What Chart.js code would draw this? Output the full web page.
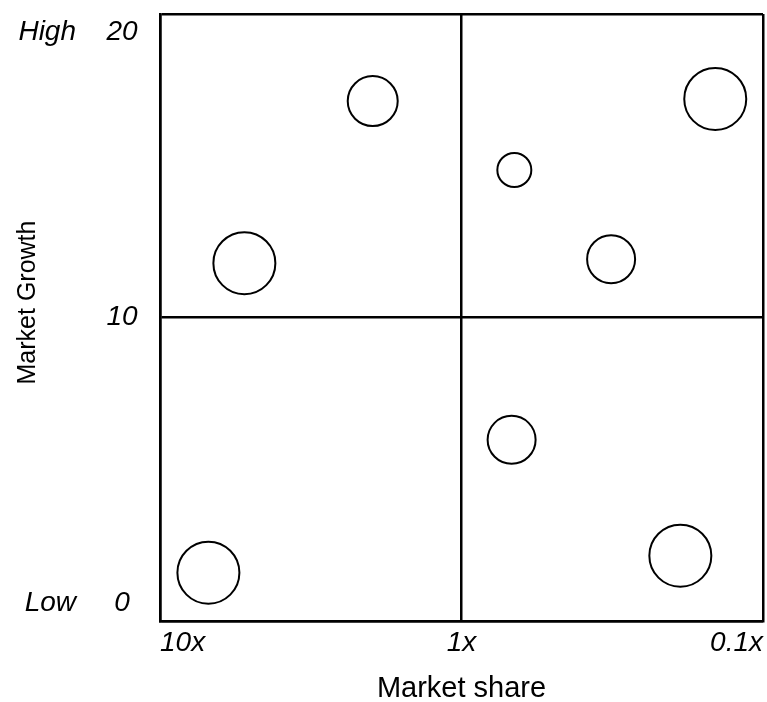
<!DOCTYPE html>
<html>
<head>
<meta charset="utf-8">
<script src="https://cdn.jsdelivr.net/npm/chart.js@4"></script>
<style>
  html, body { margin: 0; padding: 0; background: #fff; }
  #wrap { width: 767px; height: 702px; position: relative; }
</style>
</head>
<body>
<div id="wrap"><canvas id="c"></canvas></div>
<script>
// ---- data ----
const marketShare = [1.97, 5.25, 0.668, 0.144, 0.319, 0.682, 0.188, 6.91];
const marketGrowth = [17.13, 11.79, 14.86, 17.2, 11.92, 5.97, 2.15, 1.59];
const bubbleSizes = [25, 31, 17, 31, 24, 24, 31, 31];
const xTickValues = [0.1, 1, 10];
const xTickLabels = ['0.1x', '1x', '10x'];
const yTickValues = [0, 10, 20];
const yTickLabels = ['0', '10', '20'];
const yEndLabels = ['Low', 'High'];
const xTitle = 'Market share';
const yTitle = 'Market Growth';

const FONT = '"Liberation Sans", Arial, Helvetica, sans-serif';

const points = marketShare.map((x, i) => ({ x: x, y: marketGrowth[i], r: bubbleSizes[i] }));

const yLabelsPlugin = {
  id: 'yLabels',
  afterDraw(chart) {
    const ctx = chart.ctx;
    const ys = chart.scales.y;
    const area = chart.chartArea;
    const pad = 18;
    ctx.save();
    ctx.fillStyle = '#000';
    ctx.textBaseline = 'middle';
    ctx.font = 'italic 28px ' + FONT;
    yTickValues.forEach((v, i) => {
      let p = ys.getPixelForValue(v);
      p = Math.min(Math.max(p, area.top + pad), area.bottom - pad);
      ctx.textAlign = 'center';
      ctx.fillText(yTickLabels[i], 122, p);
    });
    // Low / High
    [ys.min, ys.max].forEach((v, i) => {
      let p = ys.getPixelForValue(v);
      p = Math.min(Math.max(p, area.top + pad), area.bottom - pad);
      ctx.textAlign = 'right';
      ctx.fillText(yEndLabels[i], 76, p);
    });
    // axis title
    ctx.font = '25px ' + FONT;
    ctx.textAlign = 'center';
    ctx.translate(28, (area.top + area.bottom) / 2 - 15);
    ctx.rotate(-Math.PI / 2);
    ctx.fillText(yTitle, 0, 0);
    ctx.restore();
  }
};

new Chart(document.getElementById('c'), {
  type: 'bubble',
  data: {
    datasets: [{
      data: points,
      backgroundColor: '#ffffff',
      borderColor: '#000000',
      borderWidth: 2,
      hoverBorderWidth: 2,
      clip: false
    }]
  },
  options: {
    responsive: true,
    maintainAspectRatio: false,
    animation: false,
    events: [],
    layout: { autoPadding: false, padding: { top: 14, right: 4, left: 0, bottom: 0 } },
    plugins: {
      legend: { display: false },
      tooltip: { enabled: false },
      title: { display: false }
    },
    scales: {
      x: {
        type: 'logarithmic',
        min: 0.1,
        max: 10,
        reverse: true,
        afterBuildTicks(scale) {
          scale.ticks = xTickValues.map(v => ({ value: v }));
        },
        afterFit(scale) { scale.height = 81; },
        grid: { color: '#000', lineWidth: 2.5, drawTicks: false },
        border: { color: '#000', width: 2.5 },
        ticks: {
          color: '#000',
          align: 'inner',
          padding: 5,
          maxRotation: 0,
          autoSkip: false,
          font: { family: FONT, size: 28, style: 'italic' },
          callback(value) {
            const i = xTickValues.indexOf(value);
            return i >= 0 ? xTickLabels[i] : '';
          }
        },
        title: {
          display: true,
          text: xTitle,
          color: '#000',
          font: { family: FONT, size: 29 },
          padding: { top: 0, bottom: -4 }
        }
      },
      y: {
        type: 'linear',
        min: 0,
        max: 20,
        afterBuildTicks(scale) {
          scale.ticks = yTickValues.map(v => ({ value: v }));
        },
        afterFit(scale) { scale.width = 160; },
        grid: { color: '#000', lineWidth: 2.5, drawTicks: false },
        border: { color: '#000', width: 2.5 },
        ticks: { display: false }
      }
    }
  },
  plugins: [yLabelsPlugin]
});
</script>
</body>
</html>
